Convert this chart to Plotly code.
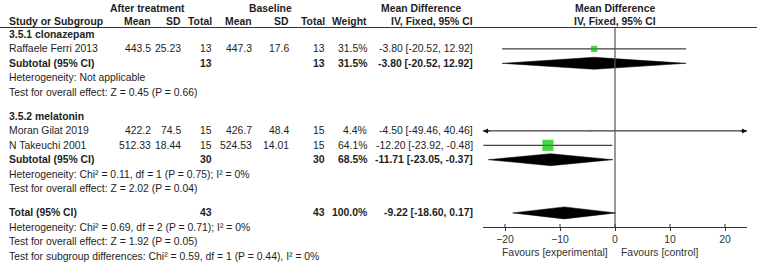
import plotly.graph_objects as go

# ---------------- data ----------------
study = ["Raffaele Ferri 2013", "Moran Gilat 2019", "N Takeuchi 2001"]
study_group = [0, 1, 1]
exp_mean = [443.5, 422.2, 512.33]
exp_sd = [25.23, 74.5, 18.44]
exp_n = [13, 15, 15]
ctl_mean = [447.3, 426.7, 524.53]
ctl_sd = [17.6, 48.4, 14.01]
ctl_n = [13, 15, 15]
weight = [31.5, 4.4, 64.1]
md = [-3.80, -4.50, -12.20]
ci_lo = [-20.52, -49.46, -23.92]
ci_hi = [12.92, 40.46, -0.48]

group_names = ["3.5.1 clonazepam", "3.5.2 melatonin"]
group_n_exp = [13, 30]
group_n_ctl = [13, 30]
group_weight = [31.5, 68.5]
group_md = [-3.80, -11.71]
group_lo = [-20.52, -23.05]
group_hi = [12.92, -0.37]
group_het = ["Heterogeneity: Not applicable",
             "Heterogeneity: Chi² = 0.11, df = 1 (P = 0.75); I² = 0%"]
group_test = ["Test for overall effect: Z = 0.45 (P = 0.66)",
              "Test for overall effect: Z = 2.02 (P = 0.04)"]

total_n_exp = 43
total_n_ctl = 43
total_weight = 100.0
total_md = -9.22
total_lo = -18.60
total_hi = 0.17
total_het = "Heterogeneity: Chi² = 0.69, df = 2 (P = 0.71); I² = 0%"
total_test = "Test for overall effect: Z = 1.92 (P = 0.05)"
subgroup_test = "Test for subgroup differences: Chi² = 0.59, df = 1 (P = 0.44), I² = 0%"

tick_vals = [-20, -10, 0, 10, 20]
x_range = [-24, 24]
label_left = "Favours [experimental]"
label_right = "Favours [control]"

# ---------------- layout constants ----------------
W, H = 757, 263
FONT = "Liberation Sans, Arial, sans-serif"
FS = 10.4
TXT = "#1e1e1e"
GREEN = "#00C000"
ROW0, STEP, GAP = 34.5, 14.4, 10.0
HDR1, HDR2, HLINE = 8.5, 21.0, 27.5
AXIS_Y = 227.0

# column right edges (px)
C_LABEL = 8
C_EMEAN, C_ESD, C_EN = 152, 182, 213
C_CMEAN, C_CSD, C_CN = 253, 290, 326
C_W, C_MD = 368, 474
PLOT_L, PLOT_R = 483, 747

def rowy(i, gaps):
    return ROW0 + STEP * i + GAP * gaps

fig = go.Figure()
ann = []

def txt(x, y, s, anchor="left", bold=False, xref="paper", size=FS, color=TXT, xshift=0):
    ann.append(dict(x=x / W if xref == "paper" else x, xref=xref, y=y, yref="y",
                    text=("<b>%s</b>" % s) if bold else s, showarrow=False,
                    xanchor=anchor, yanchor="middle", xshift=xshift,
                    font=dict(family=FONT, size=size, color=color), borderpad=0))

# headers
txt(147, HDR1, "After treatment", "center", True)
txt(270, HDR1, "Baseline", "center", True)
txt(421, HDR1, "Mean Difference", "center", True)
txt(0, HDR1, "Mean Difference", "center", True, xref="x")
txt(C_LABEL, HDR2, "Study or Subgroup", "left", True)
txt(C_EMEAN, HDR2, "Mean", "right", True)
txt(C_ESD, HDR2, "SD", "right", True)
txt(C_EN, HDR2, "Total", "right", True)
txt(C_CMEAN, HDR2, "Mean", "right", True)
txt(C_CSD, HDR2, "SD", "right", True)
txt(C_CN, HDR2, "Total", "right", True)
txt(C_W, HDR2, "Weight", "right", True)
txt(C_MD, HDR2, "IV, Fixed, 95% CI", "right", True)
txt(0, HDR2, "IV, Fixed, 95% CI", "center", True, xref="x")

def ci_text(m, lo, hi):
    return "%.2f [%.2f, %.2f]" % (m, lo, hi)

def diamond(m, lo, hi, yc, half=6.0):
    fig.add_trace(go.Scatter(x=[lo, m, hi, m, lo], y=[yc, yc - half, yc, yc + half, yc],
                             mode="lines", fill="toself", fillcolor="#000000",
                             line=dict(color="#000000", width=0.5), hoverinfo="skip",
                             showlegend=False))

sq_x, sq_y, sq_s = [], [], []
row = 0
gaps = 0
for g, gname in enumerate(group_names):
    txt(C_LABEL, rowy(row, gaps), gname, "left", True)
    row += 1
    for k in range(len(study)):
        if study_group[k] != g:
            continue
        y = rowy(row, gaps)
        txt(C_LABEL, y, study[k])
        txt(C_EMEAN, y, str(exp_mean[k]), "right")
        txt(C_ESD, y, str(exp_sd[k]), "right")
        txt(C_EN, y, str(exp_n[k]), "right")
        txt(C_CMEAN, y, str(ctl_mean[k]), "right")
        txt(C_CSD, y, str(ctl_sd[k]), "right")
        txt(C_CN, y, str(ctl_n[k]), "right")
        txt(C_W, y, "%.1f%%" % weight[k], "right")
        txt(C_MD, y, ci_text(md[k], ci_lo[k], ci_hi[k]), "right")
        fig.add_trace(go.Scatter(x=[ci_lo[k], ci_hi[k]], y=[y, y], mode="lines",
                                 line=dict(color="#111111", width=1), hoverinfo="skip",
                                 showlegend=False))
        if ci_lo[k] < x_range[0]:
            ann.append(dict(x=x_range[0], y=y, xref="x", yref="y", ax=x_range[0] + 1.5, ay=y,
                            axref="x", ayref="y", text="", showarrow=True, arrowhead=2,
                            arrowsize=1, arrowwidth=1, arrowcolor="#111111"))
        if ci_hi[k] > x_range[1]:
            ann.append(dict(x=x_range[1], y=y, xref="x", yref="y", ax=x_range[1] - 1.5, ay=y,
                            axref="x", ayref="y", text="", showarrow=True, arrowhead=2,
                            arrowsize=1, arrowwidth=1, arrowcolor="#111111"))
        sq_x.append(md[k]); sq_y.append(y); sq_s.append(1.5 + weight[k] * 0.15)
        row += 1
    y = rowy(row, gaps)
    txt(C_LABEL, y, "Subtotal (95% CI)", "left", True)
    txt(C_EN, y, str(group_n_exp[g]), "right", True)
    txt(C_CN, y, str(group_n_ctl[g]), "right", True)
    txt(C_W, y, "%.1f%%" % group_weight[g], "right", True)
    txt(C_MD, y, ci_text(group_md[g], group_lo[g], group_hi[g]), "right", True)
    diamond(group_md[g], group_lo[g], group_hi[g], y)
    row += 1
    txt(C_LABEL, rowy(row, gaps), group_het[g]); row += 1
    txt(C_LABEL, rowy(row, gaps), group_test[g]); row += 1
    gaps += 1

y = rowy(row, gaps)
txt(C_LABEL, y, "Total (95% CI)", "left", True)
txt(C_EN, y, str(total_n_exp), "right", True)
txt(C_CN, y, str(total_n_ctl), "right", True)
txt(C_W, y, "%.1f%%" % total_weight, "right", True)
txt(C_MD, y, ci_text(total_md, total_lo, total_hi), "right", True)
diamond(total_md, total_lo, total_hi, y)
row += 1
txt(C_LABEL, rowy(row, gaps), total_het); row += 1
txt(C_LABEL, rowy(row, gaps), total_test); row += 1
txt(C_LABEL, rowy(row, gaps), subgroup_test); row += 1

fig.add_trace(go.Scatter(x=sq_x, y=sq_y, mode="markers",
                         marker=dict(symbol="square", color=GREEN, size=sq_s, line=dict(width=0)),
                         hoverinfo="skip", showlegend=False))

# favours labels
txt(0, 252, label_left, "right", xref="x", color="#333333", xshift=-6)
txt(0, 252, label_right, "left", xref="x", color="#333333", xshift=5)

shapes = [
    dict(type="line", xref="paper", yref="y", x0=0, x1=1, y0=HLINE, y1=HLINE,
         line=dict(color="#333333", width=1)),
    dict(type="line", xref="x", yref="y", x0=0, x1=0, y0=HLINE, y1=AXIS_Y,
         line=dict(color="#555555", width=1.2)),
]
for t in tick_vals:
    shapes.append(dict(type="line", xref="x", yref="y", x0=t, x1=t, y0=AXIS_Y - 3, y1=AXIS_Y,
                       line=dict(color="#333333", width=1)))

fig.update_layout(
    width=W, height=H, margin=dict(l=0, r=0, t=0, b=0),
    paper_bgcolor="white", plot_bgcolor="rgba(0,0,0,0)",
    annotations=ann, shapes=shapes, showlegend=False,
    xaxis=dict(domain=[PLOT_L / W, PLOT_R / W], range=x_range, anchor="free",
               position=1 - AXIS_Y / H, showline=True, linecolor="#333333", linewidth=1,
               ticks="outside", ticklen=3, tickcolor="#333333", tickvals=tick_vals,
               tickfont=dict(family=FONT, size=FS, color="#333333"),
               showgrid=False, zeroline=False, fixedrange=True),
    yaxis=dict(domain=[0, 1], range=[H, 0], visible=False, fixedrange=True),
)

fig.write_html("out.html", config={"displayModeBar": False},
               post_script="document.body.style.margin='0px';")
